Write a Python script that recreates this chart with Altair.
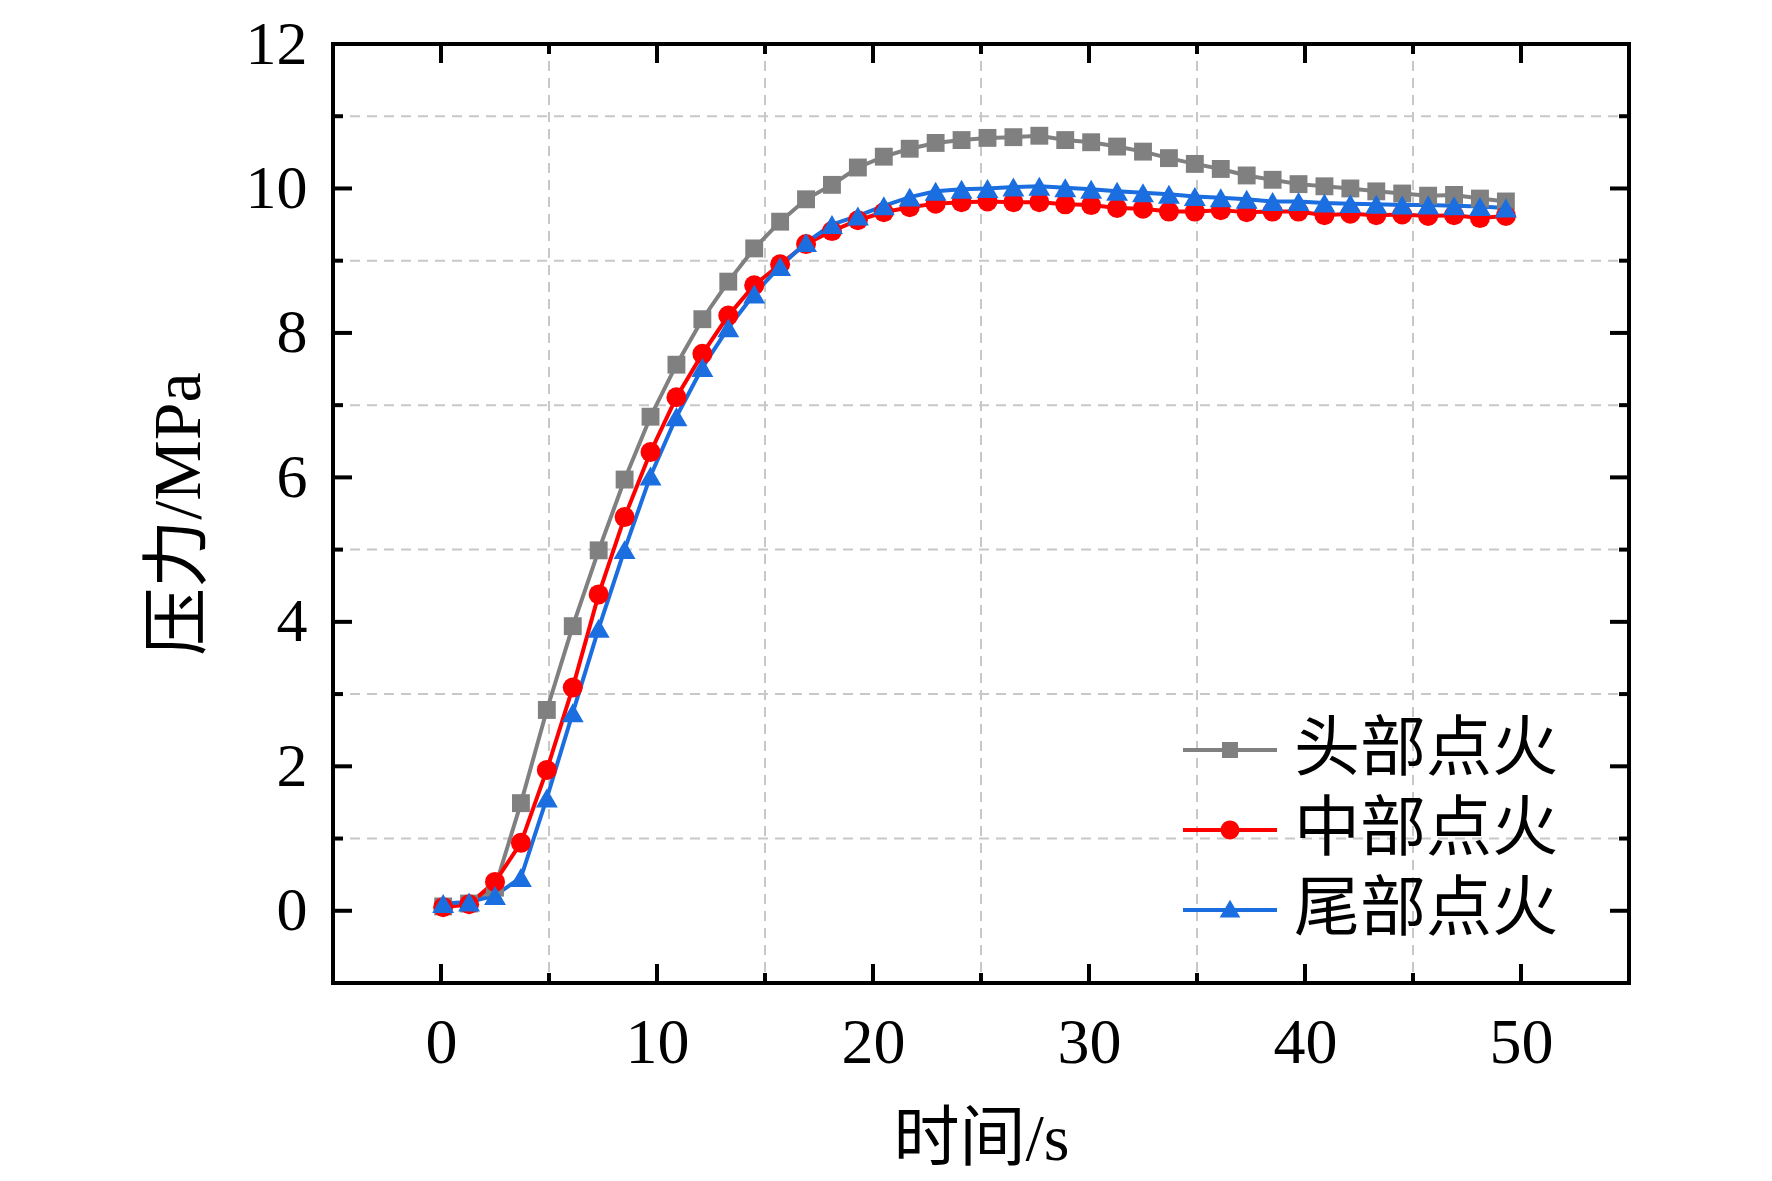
import altair as alt
import pandas as pd

# ---------------- data ----------------
t = [0.1, 1.3, 2.5, 3.7, 4.9, 6.1, 7.3, 8.5, 9.7, 10.9, 12.1, 13.3, 14.5, 15.7,
     16.9, 18.1, 19.3, 20.5, 21.7, 22.9, 24.1, 25.3, 26.5, 27.7, 28.9, 30.1,
     31.3, 32.5, 33.7, 34.9, 36.1, 37.3, 38.5, 39.7, 40.9, 42.1, 43.3, 44.5,
     45.7, 46.9, 48.1, 49.3]

head = [0.06, 0.10, 0.32, 1.49, 2.78, 3.94, 4.99, 5.97, 6.84, 7.56, 8.19, 8.71,
        9.17, 9.54, 9.85, 10.05, 10.29, 10.44, 10.55, 10.63, 10.67, 10.70, 10.71,
        10.73, 10.67, 10.64, 10.58, 10.51, 10.42, 10.34, 10.27, 10.18, 10.12,
        10.06, 10.03, 10.00, 9.96, 9.93, 9.90, 9.91, 9.86, 9.82]

mid = [0.05, 0.09, 0.40, 0.94, 1.95, 3.09, 4.38, 5.45, 6.35, 7.11, 7.71, 8.24,
       8.66, 8.95, 9.23, 9.41, 9.56, 9.67, 9.74, 9.79, 9.81, 9.82, 9.81, 9.81,
       9.78, 9.77, 9.73, 9.72, 9.68, 9.68, 9.70, 9.67, 9.68, 9.68, 9.63, 9.65,
       9.63, 9.64, 9.62, 9.63, 9.59, 9.62]

tail = [0.10, 0.12, 0.21, 0.46, 1.56, 2.74, 3.91, 5.00, 6.02, 6.84, 7.52, 8.07,
        8.54, 8.92, 9.25, 9.50, 9.62, 9.76, 9.88, 9.96, 9.99, 10.00, 10.02, 10.03,
        10.01, 9.99, 9.96, 9.94, 9.92, 9.89, 9.87, 9.85, 9.82, 9.82, 9.80, 9.79,
        9.78, 9.77, 9.77, 9.76, 9.75, 9.73]

names = ["头部点火", "中部点火", "尾部点火"]
colors = ["#808080", "#ff0000", "#1a6ee0"]

x_major = [0, 10, 20, 30, 40, 50]
x_minor = [5, 15, 25, 35, 45]
y_major = [0, 2, 4, 6, 8, 10, 12]
y_minor = [-1, 1, 3, 5, 7, 9, 11]
x_grid = [5, 15, 25, 35, 45]
y_grid = [1, 3, 5, 7, 9, 11]

# ---------------- layout ----------------
W, H = 1296, 939
MAJ, MIN = 19, 10
FONT = "Liberation Serif"
CJK = "Liberation Serif, Noto Sans CJK SC"

rows = []
for name, vals in zip(names, [head, mid, tail]):
    for ti, v in zip(t, vals):
        rows.append({"series": name, "t": ti, "p": v})
df = pd.DataFrame(rows)

xs = alt.Scale(domain=[-5, 55], nice=False, zero=False)
ys = alt.Scale(domain=[-1, 12], nice=False, zero=False)

xaxis = alt.Axis(values=x_major, title="时间/s", labelFont=FONT, labelFontSize=64,
                 labelPadding=28, ticks=False, tickSize=0, domain=False, grid=False,
                 labelColor="black", titleColor="black", titleFont=CJK,
                 titleFontSize=66, titleFontWeight="normal", titlePadding=32)
yaxis = alt.Axis(values=y_major, title="压力/MPa", labelFont=FONT, labelFontSize=62,
                 labelPadding=26, ticks=False, tickSize=0, domain=False, grid=False,
                 labelColor="black", titleColor="black", titleFont=CJK,
                 titleFontSize=68, titleFontWeight="normal", titlePadding=32)


def X(field):
    return alt.X(field, scale=xs, axis=xaxis)


def Y(field):
    return alt.Y(field, scale=ys, axis=yaxis)


# grid (dashed, at minor positions)
vgrid = alt.Chart(pd.DataFrame({"gx": x_grid})).mark_rule(
    color="#c8c8c8", strokeWidth=2, strokeDash=[10, 7]
).encode(x=X("gx:Q"), y=alt.value(0), y2=alt.value(H))
hgrid = alt.Chart(pd.DataFrame({"gy": y_grid})).mark_rule(
    color="#c8c8c8", strokeWidth=2, strokeDash=[10, 7]
).encode(y=Y("gy:Q"), x=alt.value(0), x2=alt.value(W))

layers = [vgrid, hgrid]

markers = [("square", 320), ("circle", 400), ("triangle-up", 480)]
for name, col in zip(names, colors):
    sub = alt.Chart(df).transform_filter(alt.datum.series == name)
    layers.append(sub.mark_line(color=col, strokeWidth=4).encode(x=X("t:Q"), y=Y("p:Q")))
for name, col, (shp, sz) in zip(names, colors, markers):
    sub = alt.Chart(df).transform_filter(alt.datum.series == name)
    layers.append(sub.mark_point(shape=shp, size=sz, filled=True, color=col, opacity=1).encode(
        x=X("t:Q"), y=Y("p:Q")))


# inward ticks on all four sides
def xticks(vals, length):
    d = alt.Chart(pd.DataFrame({"v": vals}))
    b = d.mark_rule(color="black", strokeWidth=4).encode(x=X("v:Q"), y=alt.value(H), y2=alt.value(H - length))
    tp = d.mark_rule(color="black", strokeWidth=4).encode(x=X("v:Q"), y=alt.value(0), y2=alt.value(length))
    return [b, tp]


def yticks(vals, length):
    d = alt.Chart(pd.DataFrame({"v": vals}))
    lf = d.mark_rule(color="black", strokeWidth=4).encode(y=Y("v:Q"), x=alt.value(0), x2=alt.value(length))
    rt = d.mark_rule(color="black", strokeWidth=4).encode(y=Y("v:Q"), x=alt.value(W), x2=alt.value(W - length))
    return [lf, rt]


layers += xticks(x_major, MAJ) + xticks(x_minor, MIN) + yticks(y_major, MAJ) + yticks(y_minor, MIN)

# legend (line + marker symbols)
paths = [
    "M-1,-0.04H1V0.04H-1Z M-0.17,-0.17H0.17V0.17H-0.17Z",
    "M-1,-0.04H1V0.04H-1Z M0.2,0A0.2,0.2,0,1,1,-0.2,0A0.2,0.2,0,1,1,0.2,0Z",
    "M-1,-0.04H1V0.04H-1Z M0,-0.22L0.22,0.16H-0.22Z",
]
leg = alt.Legend(orient="none", legendX=850, legendY=659, title=None,
                 labelFont=CJK, labelFontSize=66, labelColor="black",
                 labelLimit=0, labelOffset=17, symbolSize=8836, symbolStrokeWidth=0,
                 symbolOpacity=1, rowPadding=-24, padding=0)
legend_layer = alt.Chart(df).mark_point(filled=True, opacity=0).encode(
    x=X("t:Q"),
    y=Y("p:Q"),
    color=alt.Color("series:N", scale=alt.Scale(domain=names, range=colors), legend=leg),
    shape=alt.Shape("series:N", scale=alt.Scale(domain=names, range=paths), legend=leg),
)
layers.append(legend_layer)

chart = alt.layer(*layers).properties(
    width=W, height=H,
    autosize=alt.AutoSizeParams(type="none"),
    padding={"left": 325, "top": 36, "right": 135, "bottom": 190},
    background="white",
).configure_view(stroke="black", strokeWidth=4)

chart.save("out.html", embed_options={"renderer": "svg", "actions": False})
